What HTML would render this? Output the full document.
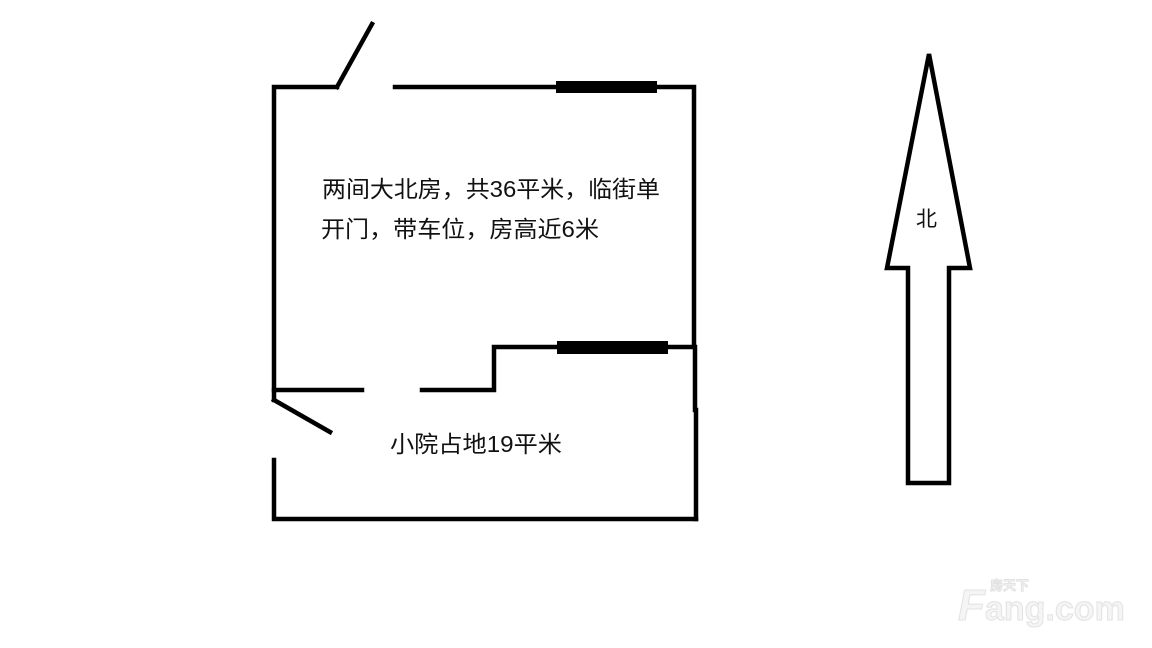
<!DOCTYPE html>
<html><head><meta charset="utf-8"><style>
html,body{margin:0;padding:0;background:#fff;}
svg{display:block;}
text{font-family:"Liberation Sans","Noto Sans CJK SC",sans-serif;fill:#111;}
</style></head><body>
<svg width="1152" height="648" viewBox="0 0 1152 648" xmlns="http://www.w3.org/2000/svg">
<g stroke="#000" stroke-width="4.5" fill="none" stroke-linecap="square">
<polyline points="337,87 274,87 274,400"/>
<line x1="337" y1="87" x2="372" y2="24"/>
<polyline points="395,87 694,87 694,346"/>
<polyline points="274,390 362,390"/>
<polyline points="422,390 494,390 494,347 695,347 695,410"/>
<line x1="696" y1="410" x2="696" y2="519"/>
<line x1="274" y1="400" x2="330" y2="432"/>
<polyline points="274,460 274,519 696,519"/>
</g>
<rect x="556" y="81" width="101" height="12" fill="#000"/>
<rect x="557" y="341" width="111" height="13" fill="#000"/>
<polygon points="929,54 887,268 908,268 908,483 949,483 949,268 970,268" fill="none" stroke="#000" stroke-width="4.5" stroke-linejoin="miter"/>
<text x="916" y="226" font-size="21">北</text>
<text x="322" y="197" font-size="23" textLength="338" lengthAdjust="spacingAndGlyphs">两间大北房，共36平米，临街单</text>
<text x="321" y="237" font-size="23" textLength="278" lengthAdjust="spacingAndGlyphs">开门，带车位，房高近6米</text>
<text x="390" y="452" font-size="23" textLength="172" lengthAdjust="spacingAndGlyphs">小院占地19平米</text>
<g fill="#f5f5f5" stroke="#e2e2e2" stroke-width="1">
<text x="958" y="620" font-size="44" font-weight="bold" font-style="italic" style="fill:#f5f5f5">F</text>
<text x="985" y="620" font-size="34" font-weight="bold" style="fill:#f5f5f5">ang.com</text>
<text x="990" y="590" font-size="13" font-weight="bold" style="fill:#f5f5f5">房天下</text>
</g>
</svg>
</body></html>
